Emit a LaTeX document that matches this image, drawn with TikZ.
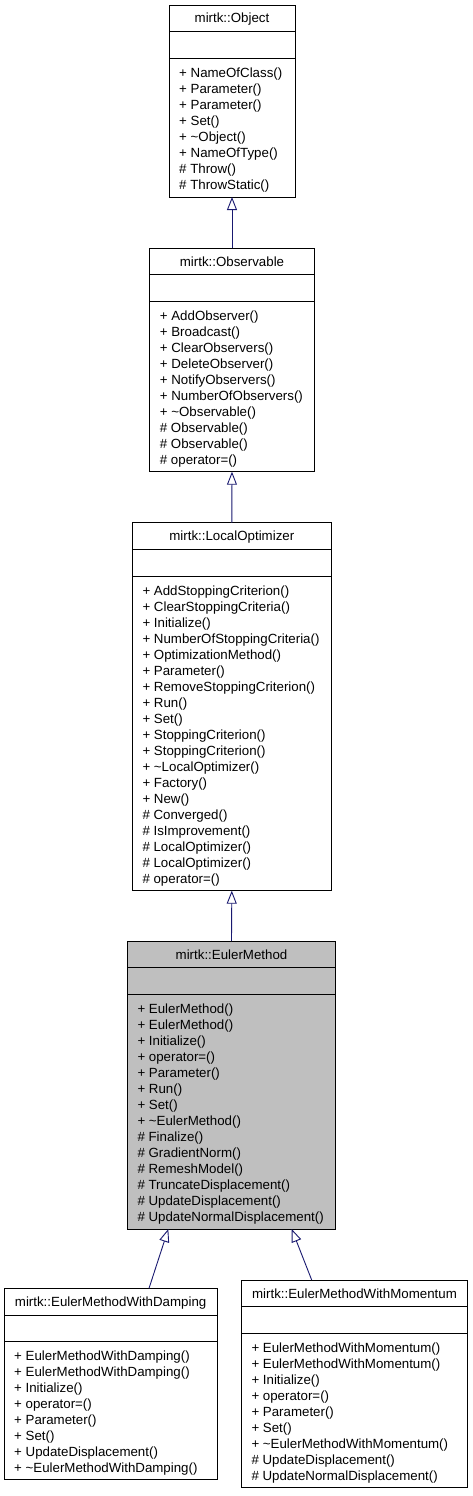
\documentclass[tikz,border=0pt]{standalone}
\usepackage{fontspec}
\setmainfont{Liberation Sans}
\usetikzlibrary{calc,arrows.meta}
\definecolor{inhcol}{HTML}{191970}
\definecolor{curfill}{HTML}{BFBFBF}
\tikzset{
  clsbox/.style={draw=black, line width=0.9pt, inner sep=0pt, outer sep=0pt},
  sepline/.style={draw=black, line width=0.9pt},
  ttl/.style={anchor=base, inner sep=0pt, font=\fontsize{13.3}{16}\selectfont},
  mem/.style={anchor=base west, inner sep=0pt, font=\fontsize{13.3}{16}\selectfont},
  inh/.style={draw=inhcol, line width=0.9pt, -{Triangle[open, length=13pt, width=10pt, line width=0.9pt]}, fill=white}
}
\newcommand\umlclass[8]{%
  \pgfmathsetmacro\bw{#4-#2}\pgfmathsetmacro\bh{#5-#3}%
  \node[clsbox, fill=#6, minimum width=\bw pt, minimum height=\bh pt, anchor=north west] (#1) at (#2,#3) {};
  \draw[sepline] ([yshift=-26.7pt]#1.north west) -- ([yshift=-26.7pt]#1.north east);
  \draw[sepline] ([yshift=-53.4pt]#1.north west) -- ([yshift=-53.4pt]#1.north east);
  \node[ttl] (#1-t) at ($(#1.north)+(0,18)$) {#7};
  \foreach \t [count=\i from 0] in {#8}
    \node[mem] (#1-m\i) at ($(#1.north west)+(10,72.4+16*\i)$) {\t};
}
\begin{document}
\begin{tikzpicture}[x=1pt,y=-1pt]
\useasboundingbox[fill=white] (0,0) rectangle (472,1496);
\umlclass{obj}{169}{5}{295}{197}{white}{mirtk::Object}{%
+ NameOfClass(),+ Parameter(),+ Parameter(),+ Set(),+ \textasciitilde Object(),+ NameOfType(),\# Throw(),\# ThrowStatic()}
\umlclass{obsv}{149.7}{248}{314.3}{471.7}{white}{mirtk::Observable}{%
+ AddObserver(),+ Broadcast(),+ ClearObservers(),+ DeleteObserver(),+ NotifyObservers(),+ NumberOfObservers(),+ \textasciitilde Observable(),\# Observable(),\# Observable(),\# operator=()}
\umlclass{lopt}{132.3}{522.7}{331.3}{890.7}{white}{mirtk::LocalOptimizer}{%
+ AddStoppingCriterion(),+ ClearStoppingCriteria(),+ Initialize(),+ NumberOfStoppingCriteria(),+ OptimizationMethod(),+ Parameter(),+ RemoveStoppingCriterion(),+ Run(),+ Set(),+ StoppingCriterion(),+ StoppingCriterion(),+ \textasciitilde LocalOptimizer(),+ Factory(),+ New(),\# Converged(),\# IsImprovement(),\# LocalOptimizer(),\# LocalOptimizer(),\# operator=()}
\umlclass{euler}{127.3}{941}{335.7}{1229}{curfill}{mirtk::EulerMethod}{%
+ EulerMethod(),+ EulerMethod(),+ Initialize(),+ operator=(),+ Parameter(),+ Run(),+ Set(),+ \textasciitilde EulerMethod(),\# Finalize(),\# GradientNorm(),\# RemeshModel(),\# TruncateDisplacement(),\# UpdateDisplacement(),\# UpdateNormalDisplacement()}
\umlclass{damp}{4}{1288.3}{217.3}{1479.3}{white}{mirtk::EulerMethodWithDamping}{%
+ EulerMethodWithDamping(),+ EulerMethodWithDamping(),+ Initialize(),+ operator=(),+ Parameter(),+ Set(),+ UpdateDisplacement(),+ \textasciitilde EulerMethodWithDamping()}
\umlclass{mom}{241.3}{1280}{467.7}{1487.3}{white}{mirtk::EulerMethodWithMomentum}{%
+ EulerMethodWithMomentum(),+ EulerMethodWithMomentum(),+ Initialize(),+ operator=(),+ Parameter(),+ Set(),+ \textasciitilde EulerMethodWithMomentum(),\# UpdateDisplacement(),\# UpdateNormalDisplacement()}
\coordinate (dampTop) at (149,1288.3);
\coordinate (dampTip) at (168.3,1229);
\coordinate (momTop) at (311.7,1280);
\coordinate (momTip) at (291.7,1229);
\draw[inh] (obsv.north) -- (obj.south);
\draw[inh] (lopt.north) -- (obsv.south);
\draw[inh] (euler.north) -- (lopt.south);
\draw[inh] (dampTop) -- (dampTip);
\draw[inh] (momTop) -- (momTip);
\end{tikzpicture}
\end{document}
